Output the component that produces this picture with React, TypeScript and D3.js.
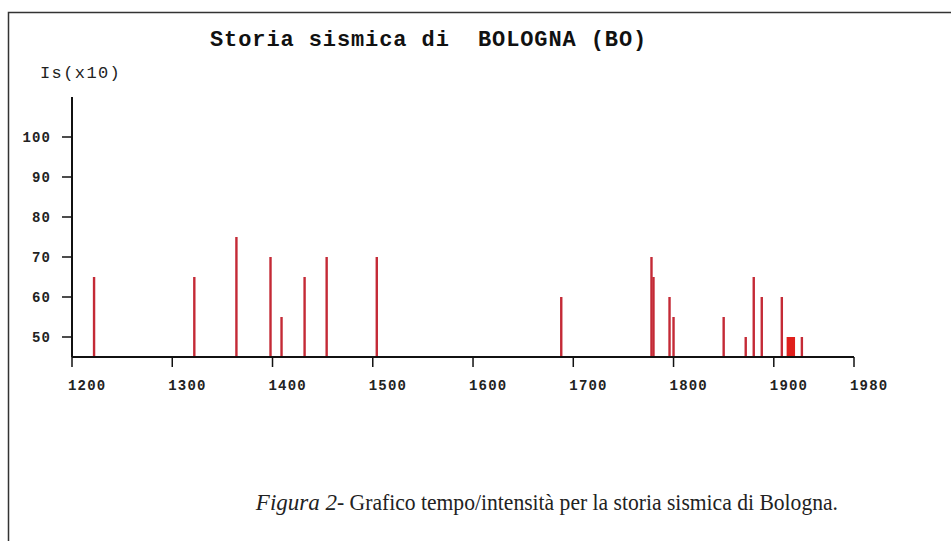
import React from 'react'
import * as d3 from 'd3'

// anni e intensità (Is x10)
const years = [1222, 1322, 1364, 1398, 1409, 1432, 1454, 1504, 1688, 1778, 1780, 1796, 1800, 1850, 1872, 1880, 1888, 1908, 1914, 1916, 1918, 1920, 1928]
const intensity = [65, 65, 75, 70, 55, 65, 70, 70, 60, 70, 65, 60, 55, 55, 50, 65, 60, 60, 50, 50, 50, 50, 50]
const yTicks = [50, 60, 70, 80, 90, 100]
const xTicks = [1200, 1300, 1400, 1500, 1600, 1700, 1800, 1900, 1980]

const title = 'Storia sismica di  BOLOGNA (BO)'
const yLabel = 'Is(x10)'
const captionLead = 'Figura 2'
const captionRest = '- Grafico tempo/intensità per la storia sismica di Bologna.'

const App = () => {
  const width = 951
  const height = 541
  const x = d3.scaleLinear().domain([1200, 1980]).range([72, 854])
  const y = d3.scaleLinear().domain([45, 110]).range([357, 97])
  const events = years.map((yr, i) => ({ yr, v: intensity[i] }))
  const mono = '"Liberation Mono", "DejaVu Sans Mono", monospace'
  const serif = '"Liberation Serif", serif'

  return (
    <svg
      width={width}
      height={height}
      style={{ position: 'absolute', left: 0, top: 0, background: '#fff' }}
    >
      {/* cornice */}
      <path d={`M8.5,${height} V12.5 H${width}`} fill='none' stroke='#333' strokeWidth={1.5} />

      <text x={210} y={46} fontFamily={mono} fontWeight='bold' fontSize={22} letterSpacing={0.9} fill='#111' style={{ whiteSpace: 'pre' }}>
        {title}
      </text>
      <text x={40} y={78} fontFamily={mono} fontSize={17} letterSpacing={1.4} fill='#222'>
        {yLabel}
      </text>

      {/* barre */}
      {events.map((d, i) => (
        <rect
          key={i}
          x={x(d.yr) - 1.2}
          y={y(d.v)}
          width={2.4}
          height={y(45) - y(d.v)}
          fill={d.v === 50 && d.yr > 1910 && d.yr < 1925 ? '#e0201c' : '#c42a36'}
        />
      ))}

      {/* assi */}
      <line x1={x(1200)} x2={x(1200)} y1={y(110)} y2={y(45)} stroke='#111' strokeWidth={2} />
      <line x1={x(1200)} x2={x(1980)} y1={y(45)} y2={y(45)} stroke='#111' strokeWidth={2} />
      {yTicks.map((t) => (
        <g key={t}>
          <line x1={62} x2={x(1200)} y1={y(t)} y2={y(t)} stroke='#111' strokeWidth={1.5} />
          <text x={51} y={y(t) + 5} textAnchor='end' fontFamily={mono} fontWeight='bold' fontSize={14} letterSpacing={1.1} fill='#222'>
            {t}
          </text>
        </g>
      ))}
      {xTicks.map((t) => (
        <g key={t}>
          <line x1={x(t)} x2={x(t)} y1={y(45)} y2={y(45) + 10} stroke='#111' strokeWidth={1.5} />
          <text x={x(t) - 4} y={390} fontFamily={mono} fontWeight='bold' fontSize={14} letterSpacing={1.2} fill='#222'>
            {t}
          </text>
        </g>
      ))}

      <text x={337} y={510} textAnchor='end' fontFamily={serif} fontStyle='italic' fontSize={23} fill='#222'>
        {captionLead}
      </text>
      <text x={337} y={510} textLength={501} lengthAdjust='spacingAndGlyphs' fontFamily={serif} fontSize={23} fill='#222'>
        {captionRest}
      </text>
    </svg>
  )
}

export default App
